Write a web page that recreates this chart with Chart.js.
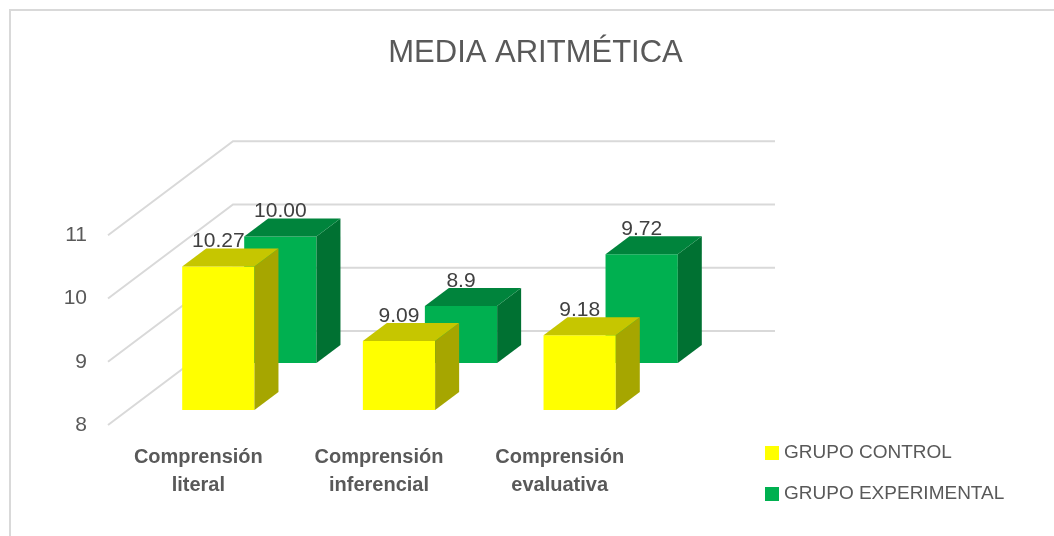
<!DOCTYPE html>
<html><head><meta charset="utf-8">
<script src="https://cdn.jsdelivr.net/npm/chart.js@4.4.1/dist/chart.umd.min.js"></script>
<style>html,body{margin:0;padding:0;background:#fff;overflow:hidden}</style>
</head><body>
<canvas id="c" width="1054" height="536"></canvas>
<script>
// ---- data ----
const TITLE = 'MEDIA ARITMÉTICA';
const CATEGORIES = [['Comprensión', 'literal'], ['Comprensión', 'inferencial'], ['Comprensión', 'evaluativa']];
const SERIES_NAMES = ['GRUPO CONTROL', 'GRUPO EXPERIMENTAL'];
const CONTROL = [10.27, 9.09, 9.18];
const EXPERIMENTAL = [10.00, 8.9, 9.72];
const CONTROL_LABELS = ['10.27', '9.09', '9.18'];
const EXPERIMENTAL_LABELS = ['10.00', '8.9', '9.72'];
const Y_TICKS = [8, 9, 10, 11];

// ---- style ----
const FONT = "'Liberation Sans', Arial, sans-serif";
const TEXT = '#595959';
const LABEL_TEXT = '#404040';
const GRID = '#D9D9D9';
const FLOOR_DEPTH = {dx: 125, dy: -94};
const SERIES_DEPTH = [{dx: 20, dy: -15}, {dx: 82, dy: -62}];
const BAR_DEPTH = {dx: 24, dy: -18};
const SHADES = [
  {front: '#FFFF00', top: '#C6C600', side: '#A6A600'},
  {front: '#00B050', top: '#00843C', side: '#007132'}
];
const LEGEND_BOX = {x: 765, y: 446, size: 14, gap: 41, textOffset: 19};

const bars3d = {
  id: 'bars3d',
  beforeDraw(chart) {
    const ctx = chart.ctx;
    ctx.save();
    ctx.strokeStyle = GRID;
    ctx.lineWidth = 2;
    ctx.strokeRect(10, 10, chart.width + 40, chart.height + 40);
    ctx.restore();
  },
  beforeDatasetsDraw(chart) {
    const {ctx, chartArea, scales} = chart;
    const y = scales.y;
    ctx.save();
    ctx.strokeStyle = GRID;
    ctx.lineWidth = 2;
    y.ticks.forEach(t => {
      const yf = y.getPixelForValue(t.value);
      ctx.beginPath();
      ctx.moveTo(chartArea.left, yf);
      ctx.lineTo(chartArea.left + FLOOR_DEPTH.dx, yf + FLOOR_DEPTH.dy);
      ctx.lineTo(chartArea.right + FLOOR_DEPTH.dx, yf + FLOOR_DEPTH.dy);
      ctx.stroke();
    });
    ctx.restore();
  },
  beforeDatasetDraw(chart, args) {
    const d = SERIES_DEPTH[args.index];
    chart.ctx.save();
    chart.ctx.translate(d.dx, d.dy);
  },
  afterDatasetDraw(chart, args) {
    const ctx = chart.ctx;
    const ds = chart.data.datasets[args.index];
    const shade = SHADES[args.index];
    args.meta.data.forEach((el, i) => {
      const p = el.getProps(['x', 'y', 'base', 'width'], true);
      const L = p.x - p.width / 2, R = p.x + p.width / 2;
      const T = Math.min(p.y, p.base), B = Math.max(p.y, p.base);
      ctx.fillStyle = shade.side;
      ctx.beginPath();
      ctx.moveTo(R, T); ctx.lineTo(R + BAR_DEPTH.dx, T + BAR_DEPTH.dy);
      ctx.lineTo(R + BAR_DEPTH.dx, B + BAR_DEPTH.dy); ctx.lineTo(R, B);
      ctx.closePath(); ctx.fill();
      ctx.fillStyle = shade.top;
      ctx.beginPath();
      ctx.moveTo(L, T); ctx.lineTo(L + BAR_DEPTH.dx, T + BAR_DEPTH.dy);
      ctx.lineTo(R + BAR_DEPTH.dx, T + BAR_DEPTH.dy); ctx.lineTo(R, T);
      ctx.closePath(); ctx.fill();
      ctx.fillStyle = LABEL_TEXT;
      ctx.font = '21px ' + FONT;
      ctx.textAlign = 'center';
      ctx.textBaseline = 'alphabetic';
      ctx.fillText(ds.valueLabels[i], p.x, T + BAR_DEPTH.dy - 1);
    });
    ctx.restore();
  },
  afterDraw(chart) {
    const ctx = chart.ctx;
    ctx.save();
    ctx.font = '19px ' + FONT;
    ctx.textAlign = 'left';
    ctx.textBaseline = 'middle';
    chart.data.datasets.forEach((ds, i) => {
      const by = LEGEND_BOX.y + i * LEGEND_BOX.gap;
      ctx.fillStyle = ds.backgroundColor;
      ctx.fillRect(LEGEND_BOX.x, by, LEGEND_BOX.size, LEGEND_BOX.size);
      ctx.fillStyle = TEXT;
      ctx.fillText(ds.label, LEGEND_BOX.x + LEGEND_BOX.textOffset, by + LEGEND_BOX.size / 2);
    });
    ctx.restore();
  }
};

new Chart(document.getElementById('c'), {
  type: 'bar',
  data: {
    labels: CATEGORIES,
    datasets: [
      {label: SERIES_NAMES[0], data: CONTROL, valueLabels: CONTROL_LABELS, backgroundColor: SHADES[0].front, base: Y_TICKS[0]},
      {label: SERIES_NAMES[1], data: EXPERIMENTAL, valueLabels: EXPERIMENTAL_LABELS, backgroundColor: SHADES[1].front, base: Y_TICKS[0]}
    ]
  },
  options: {
    responsive: false,
    animation: false,
    devicePixelRatio: 1,
    grouped: false,
    barPercentage: 0.4,
    categoryPercentage: 1.0,
    clip: false,
    layout: {padding: {left: 17, right: 0, top: 10, bottom: 0}},
    plugins: {
      legend: {display: false},
      tooltip: {enabled: false},
      title: {
        display: true, text: TITLE, color: TEXT,
        font: {family: FONT, size: 31, weight: 'normal', lineHeight: 1.2},
        padding: {top: 25, bottom: 163}
      }
    },
    scales: {
      x: {
        grid: {display: false, drawTicks: false},
        border: {display: false},
        ticks: {color: TEXT, font: {family: FONT, size: 20, weight: 'bold', lineHeight: 1.4}, padding: 18, autoSkip: false, maxRotation: 0},
        afterFit(s) { s.height = 111; }
      },
      y: {
        min: Y_TICKS[0], max: Y_TICKS[Y_TICKS.length - 1],
        grid: {display: false, drawTicks: false},
        border: {display: false},
        ticks: {stepSize: 1, color: TEXT, font: {family: FONT, size: 21}, padding: 21},
        afterFit(s) { s.width = 91; }
      },
      gap: {
        type: 'linear', position: 'right', display: true,
        grid: {display: false, drawTicks: false},
        border: {display: false},
        ticks: {display: false},
        afterFit(s) { s.width = 404; }
      }
    }
  },
  plugins: [bars3d]
});
</script>
</body></html>
